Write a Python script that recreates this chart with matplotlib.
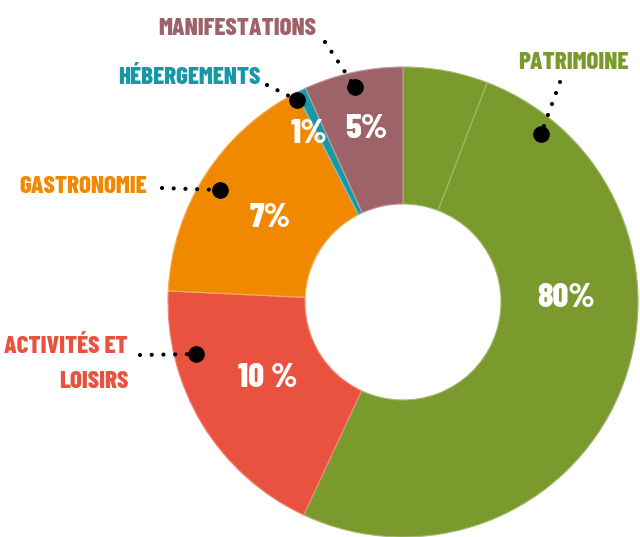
import matplotlib
matplotlib.use("Agg")
import matplotlib.pyplot as plt

# slice sizes (degrees, clockwise from 12 o'clock)
slices = [21, 184, 67.7, 60.3, 2.5, 24.5]
slice_colors = ["#7a9a2e", "#7a9a2e", "#ea5240", "#f18900", "#1798a6", "#9e6269"]
slice_edges = ["#a3b96e", "#a3b96e", "#f08a7c", "#f5b060", "#7cc4cc", "#c49aa0"]

# category names and percentages as printed on the chart
names = ["PATRIMOINE", "ACTIVITÉS ET\nLOISIRS", "GASTRONOMIE", "HÉBERGEMENTS", "MANIFESTATIONS"]
name_colors = ["#7a9a2e", "#ea5240", "#f18900", "#1798a6", "#9e6269"]
percents = ["80%", "10 %", "7%", "1%", "5%"]

W, H = 640, 537
plt.rcParams["font.family"] = ["Barlow Condensed", "DejaVu Sans"]

fig = plt.figure(figsize=(W / 100, H / 100), dpi=100)
ax = fig.add_axes([0, 0, 1, 1])


def py(y):
    # picture rows are counted from the top
    return H - y


# donut ring
cx, cy, R = 403, py(302), 235
wedges, _ = ax.pie(slices, colors=slice_colors, startangle=90, counterclock=False,
                   radius=R, center=(cx, cy), frame=True,
                   wedgeprops=dict(width=R - 98, linewidth=0.8))
for w, ec in zip(wedges, slice_edges):
    w.set_edgecolor(ec)
ax.set_xlim(0, W)
ax.set_ylim(0, H)
ax.set_aspect("equal")
ax.axis("off")

# percentage labels inside the ring (x centre, baseline)
pct_pos = [(566, 307), (268, 387), (270, 227), (309, 143), (366, 138)]
for txt, (x, y) in zip(percents, pct_pos):
    ax.text(x, py(y), txt, color="white", fontsize=25, fontweight=800,
            ha="center", va="baseline")

# category names outside the ring (x, baseline, alignment)
name_pos = [(573, 69, "center"), (128, 353, "right"), (83, 193, "center"),
            (189, 84, "center"), (237, 35, "center")]
for txt, col, (x, y, ha) in zip(names, name_colors, name_pos):
    for i, line in enumerate(txt.split("\n")):
        ax.text(x, py(y + 35 * i), line, color=col, fontsize=18, fontweight=800,
                ha=ha, va="baseline")

# dotted leader lines ending in a big dot
leaders = [((560, 82), (541, 134)), ((140, 355), (196, 354)),
           ((162, 188), (220, 190)), ((267, 85), (297, 100)),
           ((325, 42), (355, 87))]
for (x0, y0), (x1, y1) in leaders:
    ax.plot([x0, x1], [py(y0), py(y1)], color="black", lw=3,
            linestyle=(0, (0.01, 2.8)), dash_capstyle="round")
    ax.plot(x1, py(y1), "o", color="black", ms=11)

fig.savefig("out.png", dpi=100)
